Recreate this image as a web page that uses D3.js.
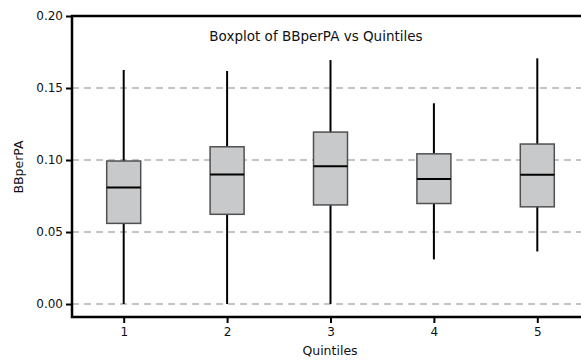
<!DOCTYPE html>
<html>
<head>
<meta charset="utf-8">
<script src="https://cdn.jsdelivr.net/npm/d3@7"></script>
<style>
  body { margin: 0; background: #fff; }
  svg { display: block; font-family: "DejaVu Sans", Verdana, sans-serif; }
</style>
</head>
<body>
<div id="chart"></div>
<script>
const quintiles = [1, 2, 3, 4, 5];
const whiskerLow  = [0.000, 0.000, 0.000, 0.031, 0.0365];
const q1Values    = [0.056, 0.0623, 0.0688, 0.0698, 0.0675];
const medians     = [0.081, 0.090, 0.0956, 0.0868, 0.0898];
const q3Values    = [0.0993, 0.1092, 0.1194, 0.1043, 0.1111];
const whiskerHigh = [0.1625, 0.1618, 0.1694, 0.1394, 0.1706];
const yTicks = [0.00, 0.05, 0.10, 0.15, 0.20];

const w = 581;
const h = 362;
const plotLeft = 72, plotTop = 16, plotBottom = 317, plotRight = 589;
const boxW = 34;

const svg = d3.select("#chart")
    .append("svg")
    .attr("width", w)
    .attr("height", h);

const xScale = d3.scaleLinear()
    .domain([0.5, 5.5])
    .range([plotLeft, plotRight]);

const yScale = d3.scaleLinear()
    .domain([-0.009, 0.20])
    .range([plotBottom, plotTop]);

// dashed grid
svg.append("g")
    .selectAll("line")
    .data(yTicks.filter(d => d < 0.2))
    .enter()
    .append("line")
    .attr("x1", plotLeft)
    .attr("x2", w)
    .attr("y1", d => yScale(d))
    .attr("y2", d => yScale(d))
    .attr("stroke", "#c4c4c4")
    .attr("stroke-width", 2)
    .attr("stroke-dasharray", "7,5");

const data = quintiles.map((q, i) => ({
    q: q, lo: whiskerLow[i], q1: q1Values[i], med: medians[i], q3: q3Values[i], hi: whiskerHigh[i]
}));

const boxes = svg.append("g")
    .selectAll("g")
    .data(data)
    .enter()
    .append("g");

boxes.append("line")
    .attr("x1", d => xScale(d.q))
    .attr("x2", d => xScale(d.q))
    .attr("y1", d => yScale(d.hi))
    .attr("y2", d => yScale(d.lo))
    .attr("stroke", "#000")
    .attr("stroke-width", 2);

boxes.append("rect")
    .attr("x", d => xScale(d.q) - boxW / 2)
    .attr("y", d => yScale(d.q3))
    .attr("width", boxW)
    .attr("height", d => yScale(d.q1) - yScale(d.q3))
    .attr("fill", "#c8c9ca")
    .attr("stroke", "#505050")
    .attr("stroke-width", 1.5);

boxes.append("line")
    .attr("x1", d => xScale(d.q) - boxW / 2)
    .attr("x2", d => xScale(d.q) + boxW / 2)
    .attr("y1", d => yScale(d.med))
    .attr("y2", d => yScale(d.med))
    .attr("stroke", "#000")
    .attr("stroke-width", 2);

// axes
const xAxis = d3.axisBottom(xScale).tickValues(quintiles).tickFormat(d3.format("d")).tickSize(6).tickSizeOuter(0);
const yAxis = d3.axisLeft(yScale).tickValues(yTicks).tickFormat(d3.format(".2f")).tickSize(6).tickSizeOuter(0);

const gx = svg.append("g")
    .attr("transform", `translate(0,${plotBottom})`)
    .call(xAxis);

const gy = svg.append("g")
    .attr("transform", `translate(${plotLeft},0)`)
    .call(yAxis);

[gx, gy].forEach(g => {
    g.select(".domain").remove();
    g.selectAll(".tick line").attr("stroke", "#000").attr("stroke-width", 2);
    g.selectAll(".tick text").attr("fill", "#111").style("font-size", "12px").style("font-family", "DejaVu Sans, Verdana, sans-serif");
});
gy.selectAll(".tick text").attr("x", -9);
gx.selectAll(".tick text").attr("y", 10);

// frame
svg.append("path")
    .attr("d", `M${w},${plotTop}H${plotLeft}V${plotBottom}H${w}`)
    .attr("fill", "none")
    .attr("stroke", "#000")
    .attr("stroke-width", 2.5);

svg.append("text")
    .attr("x", 316)
    .attr("y", 41)
    .attr("text-anchor", "middle")
    .style("font-size", "13.5px")
    .attr("fill", "#111")
    .text("Boxplot of BBperPA vs Quintiles");

svg.append("text")
    .attr("x", 330)
    .attr("y", 355)
    .attr("text-anchor", "middle")
    .style("font-size", "12.5px")
    .attr("fill", "#111")
    .text("Quintiles");

svg.append("text")
    .attr("transform", `translate(23,167) rotate(-90)`)
    .attr("text-anchor", "middle")
    .style("font-size", "12.5px")
    .attr("fill", "#111")
    .text("BBperPA");
</script>
</body>
</html>
